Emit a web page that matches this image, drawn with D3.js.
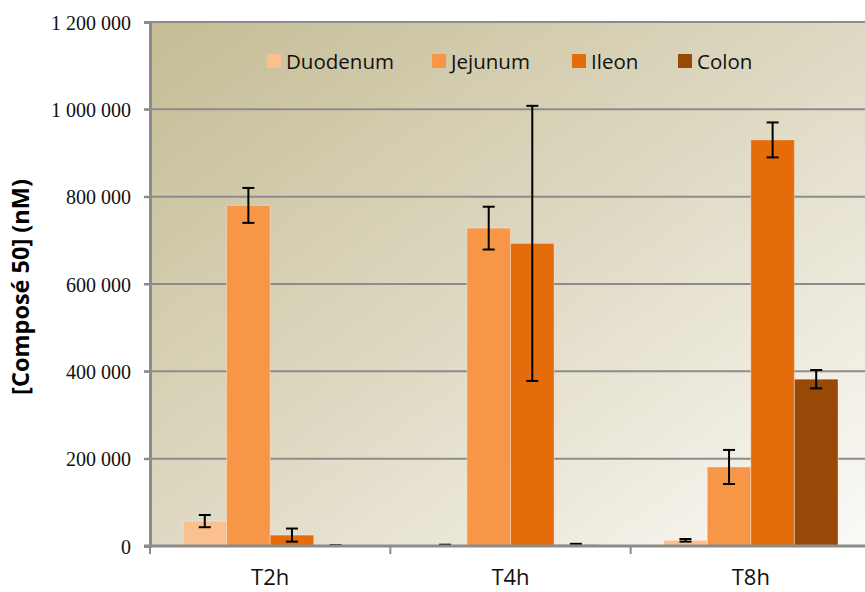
<!DOCTYPE html>
<html>
<head>
<meta charset="utf-8">
<script src="https://cdn.jsdelivr.net/npm/d3@7"></script>
<style>
  html, body { margin: 0; padding: 0; background: #fff; }
  svg { display: block; }
</style>
</head>
<body>
<svg id="chart" width="865" height="592"></svg>
<script>
const categories = ["T2h", "T4h", "T8h"];
const seriesNames = ["Duodenum", "Jejunum", "Ileon", "Colon"];
const seriesColors = ["#fac090", "#f79646", "#e46c0a", "#984807"];
const duodenum = [57000, 1000, 13000];
const jejunum = [780000, 728000, 181000];
const ileon = [25000, 693000, 930000];
const colon = [1000, 3000, 382000];
const duodenumErr = [14000, 2000, 3000];
const jejunumErr = [40000, 49000, 39000];
const ileonErr = [15000, 315000, 40000];
const colonErr = [1000, 2000, 21000];
const yTicks = [0, 200000, 400000, 600000, 800000, 1000000, 1200000];

const values = [duodenum, jejunum, ileon, colon];
const errors = [duodenumErr, jejunumErr, ileonErr, colonErr];

const svg = d3.select("#chart");
const mLeft = 150, mRight = 871, mTop = 22, mBottom = 546;

const defs = svg.append("defs");
const grad = defs.append("linearGradient").attr("id", "bg")
  .attr("x1", "0%").attr("y1", "0%").attr("x2", "100%").attr("y2", "100%");
grad.append("stop").attr("offset", "0%").attr("stop-color", "#c4bc94");
grad.append("stop").attr("offset", "50%").attr("stop-color", "#dfd9c3");
grad.append("stop").attr("offset", "100%").attr("stop-color", "#fbfaf7");

const x0 = d3.scaleBand().domain(categories).range([mLeft, mRight]).paddingInner(0).paddingOuter(0);
const x1 = d3.scaleBand().domain(seriesNames).range([33, x0.bandwidth() - 33]).padding(0);
const y = d3.scaleLinear().domain([0, 1200000]).range([mBottom, mTop]);

svg.append("rect").attr("x", mLeft).attr("y", mTop)
  .attr("width", mRight - mLeft).attr("height", mBottom - mTop).attr("fill", "url(#bg)");

// gridlines
svg.append("g").selectAll("line").data(yTicks.filter(d => d > 0)).join("line")
  .attr("x1", mLeft - 6).attr("x2", mRight)
  .attr("y1", d => y(d)).attr("y2", d => y(d))
  .attr("stroke", "#8c8c8c").attr("stroke-width", 2);

// legend
const legendItems = [
  {name: "Duodenum", x: 267},
  {name: "Jejunum", x: 432},
  {name: "Ileon", x: 572},
  {name: "Colon", x: 678}
];
const lg = svg.append("g");
legendItems.forEach((it, i) => {
  lg.append("rect").attr("x", it.x).attr("y", 54).attr("width", 14).attr("height", 14)
    .attr("fill", seriesColors[i]);
  lg.append("text").attr("x", it.x + 19).attr("y", 69)
    .attr("font-family", "'Open Sans', 'Noto Sans', sans-serif").attr("font-size", 20.5)
    .attr("fill", "#111").text(it.name);
});

// bars
const groups = svg.append("g").selectAll("g").data(categories).join("g")
  .attr("transform", d => `translate(${x0(d)},0)`);
const rowData = (c, ci) => seriesNames.map((s, si) => ({s, si, v: values[si][ci], e: errors[si][ci]}));
groups.selectAll("rect").data(rowData)
  .join("rect")
  .attr("x", d => x1(d.s)).attr("width", x1.bandwidth())
  .attr("y", d => y(d.v)).attr("height", d => y(0) - y(d.v))
  .attr("fill", d => seriesColors[d.si])
  .attr("stroke", "rgba(255,255,255,0.35)").attr("stroke-width", 1);

// error bars
const eb = groups.selectAll("g.err").data(rowData)
  .join("g").attr("class", "err");
eb.append("line")
  .attr("x1", d => x1(d.s) + x1.bandwidth() / 2).attr("x2", d => x1(d.s) + x1.bandwidth() / 2)
  .attr("y1", d => y(d.v + d.e)).attr("y2", d => y(Math.max(0, d.v - d.e)))
  .attr("stroke", "#000").attr("stroke-width", 2);
eb.selectAll("line.cap").data(d => [d.v + d.e, Math.max(0, d.v - d.e)].map(t => ({t, d}))).join("line")
  .attr("class", "cap")
  .attr("x1", o => x1(o.d.s) + x1.bandwidth() / 2 - 6).attr("x2", o => x1(o.d.s) + x1.bandwidth() / 2 + 6)
  .attr("y1", o => y(o.t)).attr("y2", o => y(o.t))
  .attr("stroke", "#000").attr("stroke-width", 2);

// y axis
const fmt = v => d3.format(",")(v).replace(/,/g, " ");
const yAxis = svg.append("g").attr("transform", `translate(${mLeft},0)`)
  .call(d3.axisLeft(y).tickValues(yTicks).tickSize(6).tickFormat(fmt));
yAxis.select(".domain").attr("stroke", "#8c8c8c").attr("stroke-width", 3);
yAxis.selectAll(".tick line").attr("stroke", "#8c8c8c").attr("stroke-width", 2);
yAxis.selectAll(".tick text").attr("font-family", "'Liberation Serif', 'Times New Roman', serif")
  .attr("font-size", 20).attr("fill", "#111").attr("x", -19).attr("dy", "0.35em");

// x axis
const xAxis = svg.append("g").attr("transform", `translate(0,${mBottom})`)
  .call(d3.axisBottom(x0).tickSize(0).tickFormat(d => d));
xAxis.select(".domain").remove();
svg.append("line").attr("x1", mLeft - 6).attr("x2", mRight).attr("y1", mBottom).attr("y2", mBottom)
  .attr("stroke", "#8c8c8c").attr("stroke-width", 3);
svg.append("g").selectAll("line").data([mLeft, ...categories.map(c => x0(c) + x0.bandwidth())]).join("line")
  .attr("x1", d => d).attr("x2", d => d).attr("y1", mBottom).attr("y2", mBottom + 8)
  .attr("stroke", "#8c8c8c").attr("stroke-width", 2);
xAxis.selectAll(".tick text").attr("font-family", "'Open Sans', 'Noto Sans', sans-serif")
  .attr("font-size", 22).attr("fill", "#111").attr("dy", 0).attr("y", 39);

// y title
svg.append("text").attr("transform", "translate(29,287) rotate(-90)")
  .attr("text-anchor", "middle")
  .attr("font-family", "'Open Sans', 'Noto Sans', sans-serif").attr("font-weight", "bold")
  .attr("font-size", 23.5).attr("fill", "#000").text("[Composé 50] (nM)");
</script>
</body>
</html>
